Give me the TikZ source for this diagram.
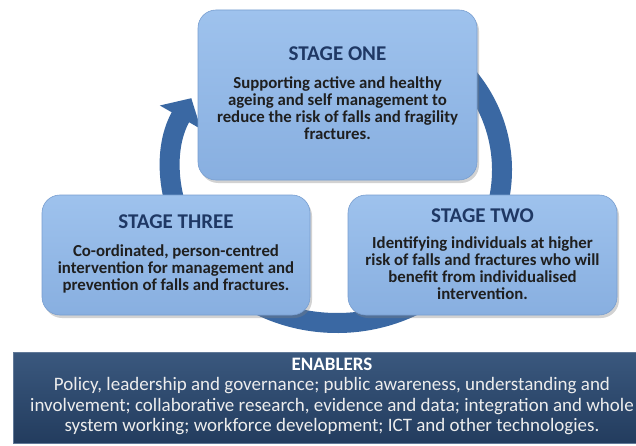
\documentclass[tikz,border=0pt]{standalone}
\usepackage{fontspec}
\setmainfont{Carlito}
\usetikzlibrary{arrows.meta,shadows,positioning}

\definecolor{stagefill}{RGB}{136,175,224}
\definecolor{stagetop}{RGB}{158,194,237}
\definecolor{stageedge}{RGB}{120,158,208}
\definecolor{ringblue}{RGB}{58,104,163}
\definecolor{titleblue}{RGB}{31,56,100}
\definecolor{enablerdark}{RGB}{35,60,94}
\definecolor{enablertop}{RGB}{58,88,126}

\tikzset{
  stagebox/.style={rounded corners=18pt, top color=stagetop, bottom color=stagefill,
    draw=stageedge, line width=0.6pt,
    drop shadow={opacity=0.35, shadow xshift=2pt, shadow yshift=-3pt}},
  stagetitle/.style={font=\fontsize{21}{23}\selectfont\bfseries, text=titleblue, inner sep=0pt},
  stagetext/.style={font=\fontsize{16.8}{17}\selectfont\bfseries, text=black!88,
    align=center, inner sep=0pt},
  ringarrow/.style={line width=20pt, ringblue, -{Triangle[width=46pt,length=22pt]}},
  enablerbox/.style={top color=enablertop, bottom color=enablerdark, draw=enablertop!80!white,
    line width=0.8pt, anchor=north west, inner sep=0pt},
}

\begin{document}
\begin{tikzpicture}[x=1pt,y=1pt]
    \useasboundingbox (0,0) rectangle (636,445);
    \fill[white] (0,0) rectangle (636,445);

    % cycle ring, drawn first so the stages sit on top of it
    \coordinate (ringc) at (337,275);
    \draw[ringarrow] ([shift={(40:165pt and 153pt)}]ringc)
        arc[start angle=40, end angle=-208, x radius=165pt, y radius=153pt];

    % the three stages
    \node[stagebox, minimum width=279pt, minimum height=170pt] (one) at (337.5,350) {};
    \node[stagebox, minimum width=268pt, minimum height=120pt] (three) at (176,190) {};
    \node[stagebox, minimum width=269pt, minimum height=120pt] (two) at (482.5,190) {};

    \node[stagetitle, below=37pt of one.north] (onetitle) {STAGE ONE};
    \node[stagetext, below=67pt of one.north] (onetext)
        {Supporting active and healthy\\ageing and self management to\\
         reduce the risk of falls and fragility\\fractures.};

    \node[stagetitle, below=20pt of three.north] (threetitle) {STAGE THREE};
    \node[stagetext, below=50pt of three.north] (threetext)
        {Co-ordinated, person-centred\\intervention for management and\\
         prevention of falls and fractures.};

    \node[stagetitle, below=14pt of two.north] (twotitle) {STAGE TWO};
    \node[stagetext, below=42pt of two.north] (twotext)
        {Identifying individuals at higher\\risk of falls and fractures who will\\
         benefit from individualised\\intervention.};

    % enablers band along the bottom
    \node[enablerbox, minimum width=640pt, minimum height=91pt] (enablers) at (13,93) {};
    \node[font=\fontsize{19}{21}\selectfont\bfseries, text=white, inner sep=0pt]
        (enabtitle) at (332,81) {ENABLERS};
    \node[font=\fontsize{19}{20.5}\selectfont, text=white!93!black, align=center, inner sep=0pt,
        below=7pt of enabtitle] (enabtext)
        {Policy, leadership and governance; public awareness, understanding and\\
         involvement; collaborative research, evidence and data; integration and whole\\
         system working; workforce development; ICT and other technologies.};
\end{tikzpicture}
\end{document}
